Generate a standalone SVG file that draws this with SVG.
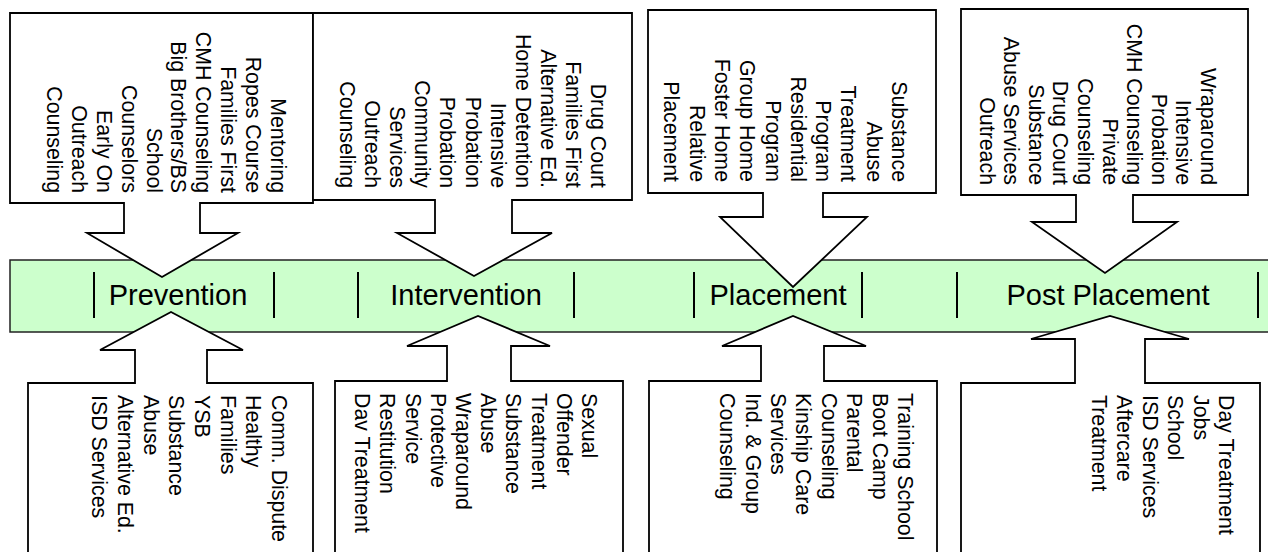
<svg xmlns="http://www.w3.org/2000/svg" width="1268" height="552" viewBox="0 0 1268 552">
<style>
.co{fill:#fff;stroke:#000;stroke-width:1.8;stroke-linejoin:miter}
.it{font-family:"Liberation Sans",Arial,sans-serif;font-size:21.33px;fill:#000}
.lb{font-family:"Liberation Sans",Arial,sans-serif;font-size:29px;fill:#000;text-anchor:middle}
.sep{stroke:#000;stroke-width:2}
</style>
<rect width="1268" height="552" fill="#fff"/>
<g id="band">
<rect x="10" y="260" width="1270" height="72" fill="#CCFFCC" stroke="#222" stroke-width="1.5"/>
</g>
<g id="connectors">
<polygon class="co" points="10,13 313,13 313,203 200,203 200,233 238,233 162,277 87,233 124,233 124,203 10,203"/>
<polygon class="co" points="313,13 632,13 632,200 512,200 512,233 552,233 474,276 397,233 435,233 435,200 313,200"/>
<polygon class="co" points="648,10 936,10 936,193 823,193 823,217 867,217 793,287 720,217 763,217 763,193 648,193"/>
<polygon class="co" points="961,9 1248,9 1248,195 1133,195 1133,222 1177,222 1105,273 1032,222 1076,222 1076,195 961,195"/>
<polygon class="co" points="28,560 28,383 135,383 135,350 100,350 171,312 243,350 207,350 207,383 313,383 313,560"/>
<polygon class="co" points="335,560 335,381 447,381 447,346 407,346 478,316 550,346 511,346 511,381 623,381 623,560"/>
<polygon class="co" points="649,560 649,381 761,381 761,346 722,346 793,316 866,346 824,346 824,381 937,381 937,560"/>
<polygon class="co" points="961,560 961,383 1075,383 1075,339 1031,339 1110,316 1189,339 1145,339 1145,383 1260,383 1260,560"/>
</g>
<g id="prevention">
<line class="sep" x1="94" y1="272" x2="94" y2="318"/>
<line class="sep" x1="274" y1="272" x2="274" y2="318"/>
<text class="lb" x="178" y="305">Prevention</text>
</g>
<g id="intervention">
<line class="sep" x1="358" y1="272" x2="358" y2="318"/>
<line class="sep" x1="574" y1="272" x2="574" y2="318"/>
<text class="lb" x="466" y="305">Intervention</text>
</g>
<g id="placement">
<line class="sep" x1="694" y1="272" x2="694" y2="318"/>
<line class="sep" x1="862" y1="272" x2="862" y2="318"/>
<text class="lb" x="778" y="305">Placement</text>
</g>
<g id="post-placement">
<line class="sep" x1="957" y1="272" x2="957" y2="318"/>
<line class="sep" x1="1258" y1="272" x2="1258" y2="318"/>
<text class="lb" x="1108" y="305">Post Placement</text>
</g>
<g id="top-prevention">
<text class="it" transform="rotate(90)" text-anchor="end" x="193" y="-271"><tspan x="193">Mentoring</tspan><tspan x="193" dy="24.9">Ropes Course</tspan><tspan x="193" dy="24.9">Families First</tspan><tspan x="193" dy="24.9">CMH Counseling</tspan><tspan x="193" dy="24.9">Big Brothers/BS</tspan><tspan x="193" dy="24.9">School</tspan><tspan x="193" dy="24.9">Counselors</tspan><tspan x="193" dy="24.9">Early On</tspan><tspan x="193" dy="24.9">Outreach</tspan><tspan x="193" dy="24.9">Counseling</tspan></text>
</g>
<g id="top-intervention">
<text class="it" transform="rotate(90)" text-anchor="end" x="188" y="-591"><tspan x="188">Drug Court</tspan><tspan x="188" dy="25.1">Families First</tspan><tspan x="188" dy="25.1">Alternative Ed.</tspan><tspan x="188" dy="25.1">Home Detention</tspan><tspan x="188" dy="25.1">Intensive</tspan><tspan x="188" dy="25.1">Probation</tspan><tspan x="188" dy="25.1">Probation</tspan><tspan x="188" dy="25.1">Community</tspan><tspan x="188" dy="25.1">Services</tspan><tspan x="188" dy="25.1">Outreach</tspan><tspan x="188" dy="25.1">Counseling</tspan></text>
</g>
<g id="top-placement">
<text class="it" transform="rotate(90)" text-anchor="end" x="182" y="-892"><tspan x="182">Substance</tspan><tspan x="182" dy="25.3">Abuse</tspan><tspan x="182" dy="25.3">Treatment</tspan><tspan x="182" dy="25.3">Program</tspan><tspan x="182" dy="25.3">Residential</tspan><tspan x="182" dy="25.3">Program</tspan><tspan x="182" dy="25.3">Group Home</tspan><tspan x="182" dy="25.3">Foster Home</tspan><tspan x="182" dy="25.3">Relative</tspan><tspan x="182" dy="25.3">Placement</tspan></text>
</g>
<g id="top-post-placement">
<text class="it" transform="rotate(90)" text-anchor="end" x="185" y="-1201"><tspan x="185">Wraparound</tspan><tspan x="185" dy="24.6">Intensive</tspan><tspan x="185" dy="24.6">Probation</tspan><tspan x="185" dy="24.6">CMH Counseling</tspan><tspan x="185" dy="24.6">Private</tspan><tspan x="185" dy="24.6">Counseling</tspan><tspan x="185" dy="24.6">Drug Court</tspan><tspan x="185" dy="24.6">Substance</tspan><tspan x="185" dy="24.6">Abuse Services</tspan><tspan x="185" dy="24.6">Outreach</tspan></text>
</g>
<g id="bottom-prevention">
<text class="it" transform="rotate(90)" x="395" y="-272"><tspan x="395">Comm. Dispute</tspan><tspan x="395" dy="25.7">Healthy</tspan><tspan x="395" dy="25.7">Families</tspan><tspan x="395" dy="25.7">YSB</tspan><tspan x="395" dy="25.7">Substance</tspan><tspan x="395" dy="25.7">Abuse</tspan><tspan x="395" dy="25.7">Alternative Ed.</tspan><tspan x="395" dy="25.7">ISD Services</tspan></text>
</g>
<g id="bottom-intervention">
<text class="it" transform="rotate(90)" x="393" y="-582"><tspan x="393">Sexual</tspan><tspan x="393" dy="25.2">Offender</tspan><tspan x="393" dy="25.2">Treatment</tspan><tspan x="393" dy="25.2">Substance</tspan><tspan x="393" dy="25.2">Abuse</tspan><tspan x="393" dy="25.2">Wraparound</tspan><tspan x="393" dy="25.2">Protective</tspan><tspan x="393" dy="25.2">Service</tspan><tspan x="393" dy="25.2">Restitution</tspan><tspan x="393" dy="25.2">Dav Treatment</tspan></text>
</g>
<g id="bottom-placement">
<text class="it" transform="rotate(90)" x="393" y="-898"><tspan x="393">Training School</tspan><tspan x="393" dy="25.4">Boot Camp</tspan><tspan x="393" dy="25.4">Parental</tspan><tspan x="393" dy="25.4">Counseling</tspan><tspan x="393" dy="25.4">Kinship Care</tspan><tspan x="393" dy="25.4">Services</tspan><tspan x="393" dy="25.4">Ind. &amp; Group</tspan><tspan x="393" dy="25.4">Counseling</tspan></text>
</g>
<g id="bottom-post-placement">
<text class="it" transform="rotate(90)" x="395" y="-1219"><tspan x="395">Day Treatment</tspan><tspan x="395" dy="25.5">Jobs</tspan><tspan x="395" dy="25.5">School</tspan><tspan x="395" dy="25.5">ISD Services</tspan><tspan x="395" dy="25.5">Aftercare</tspan><tspan x="395" dy="25.5">Treatment</tspan></text>
</g>
</svg>
